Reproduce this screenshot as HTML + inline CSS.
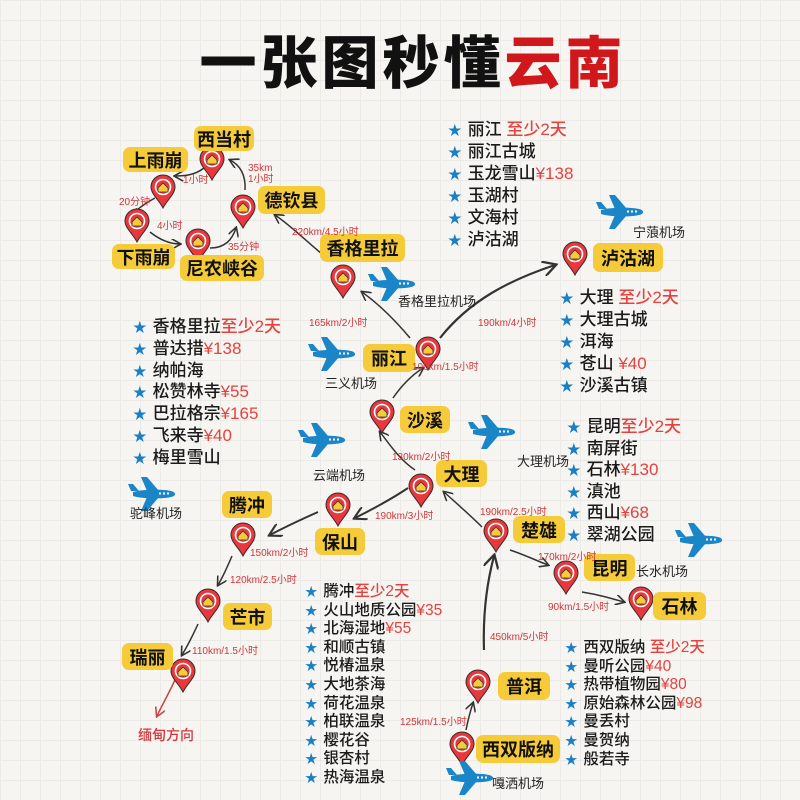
<!DOCTYPE html>
<html><head><meta charset="utf-8">
<style>
*{margin:0;padding:0;box-sizing:border-box}
body{width:800px;height:800px;overflow:hidden;position:relative;font-family:"Liberation Sans","Noto Sans CJK SC",sans-serif;
background-color:#f6f5f1;background-image:linear-gradient(#ebeae6 1px,transparent 1px),linear-gradient(90deg,#ebeae6 1px,transparent 1px);background-size:20px 20px}
.t{position:absolute;left:0;top:28px;width:826px;text-align:center;font-size:57px;font-weight:900;letter-spacing:4px;color:#111;font-family:"Noto Sans CJK SC",sans-serif;line-height:62px}
.t span{color:#d0181c}
.lb{position:absolute;background:#f6cb3a;border-radius:7px;font-weight:700;color:#111;font-size:18px;text-align:center;font-family:"Noto Sans CJK SC",sans-serif;display:flex;align-items:center;justify-content:center}
.ls{position:absolute;font-family:"Liberation Sans","Noto Sans CJK SC",sans-serif;font-weight:500;color:#1a1a1a}
.ls div{white-space:nowrap}
.ls b{color:#1a7fc4;font-size:0.8em;margin-right:6px;font-weight:400}
.ls i{font-style:normal;color:#e5423f}
.e{position:absolute;color:#d2353a;font-size:10px;white-space:nowrap;font-family:"Liberation Sans","Noto Sans CJK SC",sans-serif}
.ap{position:absolute;color:#222;font-size:13px;white-space:nowrap;font-family:"Noto Sans CJK SC",sans-serif}
svg{position:absolute;left:0;top:0}
</style></head><body>
<div class="t">一张图秒懂<span>云南</span></div>

<svg width="800" height="800" viewBox="0 0 800 800">
<defs>
<symbol id="pin" viewBox="-14 -14 28 36" overflow="visible">
<path d="M0,20 C-4,12 -12,6 -12,-1 A12,12 0 1 1 12,-1 C12,6 4,12 0,20Z" fill="#e8383d" stroke="#3a2a2a" stroke-width="1"/>
<circle cx="0" cy="-1" r="7.5" fill="#e8383d" stroke="#fff" stroke-width="1.6"/>
<path d="M-5,0 L0,-5 L5,0 L5,4 L-5,4Z" fill="#f6cb3a" stroke="#333" stroke-width="0.8"/>
</symbol>
<symbol id="pl" viewBox="-25 -18 50 36" overflow="visible">
<path d="M-20,-2 C-10,-5 10,-5 18,-3 C23,-2 24,2 18,3 C10,5 -10,5 -20,2Z" fill="#1a86c8"/>
<path d="M-6,-3 L-12,-17 L-6,-17 L6,-3Z" fill="#1a86c8"/>
<path d="M-6,3 L-12,17 L-6,17 L6,3Z" fill="#1a86c8"/>
<path d="M-22,-3 L-25,-10 L-20,-10 L-14,-3Z" fill="#1a86c8"/>
<rect x="6" y="-1.5" width="2" height="2" fill="#fff"/><rect x="10" y="-1.5" width="2" height="2" fill="#fff"/><rect x="14" y="-1.5" width="2" height="2" fill="#fff"/>
</symbol>
<marker id="ah" viewBox="0 0 10 10" refX="8" refY="5" markerWidth="7" markerHeight="7" orient="auto"><path d="M0,0 L9,5 L0,10" fill="none" stroke="#333" stroke-width="1.5"/></marker>
<marker id="ar" viewBox="0 0 10 10" refX="8" refY="5" markerWidth="7" markerHeight="7" orient="auto"><path d="M0,0 L9,5 L0,10" fill="none" stroke="#c44" stroke-width="1.5"/></marker>
</defs>
<g fill="none" stroke="#333" stroke-width="1.5" marker-end="url(#ah)">
<path d="M204,168 C195,175 185,176 175,176"/>
<path d="M155,198 C142,205 135,212 136,210"/>
<path d="M150,232 C160,240 170,244 180,244"/>
<path d="M210,248 C225,248 232,240 236,228"/>
<path d="M245,190 C246,175 240,165 230,160"/>
<path d="M322,254 C305,240 290,225 275,215"/>
<path d="M410,338 C395,320 380,305 362,292"/>
<path d="M440,338 C470,300 510,280 555,265" stroke-width="2.2"/>
<path d="M393,398 C402,385 412,375 423,368"/>
<path d="M415,470 C400,460 390,445 380,432"/>
<path d="M408,488 C390,500 375,508 355,518" stroke-width="2"/>
<path d="M318,512 C300,520 285,527 270,535" stroke-width="2"/>
<path d="M482,527 C470,515 455,502 444,492"/>
<path d="M232,556 C228,565 224,575 218,585"/>
<path d="M198,624 C193,635 188,645 182,655"/>
<path d="M510,550 C525,555 535,560 548,565"/>
<path d="M582,592 C600,595 610,598 624,602"/>
<path d="M484,650 C483,620 485,590 494,556" stroke-width="2.2"/>
<path d="M466,730 C468,720 470,712 473,703"/>
</g>
<path d="M175,680 C168,695 162,705 157,716" fill="none" stroke="#c44" stroke-width="1.5" marker-end="url(#ar)"/>

<use href="#pin" x="198" y="146" width="28" height="36"/>
<use href="#pin" x="149" y="174" width="28" height="36"/>
<use href="#pin" x="123" y="208" width="28" height="36"/>
<use href="#pin" x="184" y="228" width="28" height="36"/>
<use href="#pin" x="229" y="194" width="28" height="36"/>
<use href="#pin" x="329" y="264" width="28" height="36"/>
<use href="#pin" x="414" y="336" width="28" height="36"/>
<use href="#pin" x="368" y="399" width="28" height="36"/>
<use href="#pin" x="407" y="473" width="28" height="36"/>
<use href="#pin" x="324" y="492" width="28" height="36"/>
<use href="#pin" x="229" y="522" width="28" height="36"/>
<use href="#pin" x="194" y="588" width="28" height="36"/>
<use href="#pin" x="169" y="658" width="28" height="36"/>
<use href="#pin" x="482" y="518" width="28" height="36"/>
<use href="#pin" x="552" y="560" width="28" height="36"/>
<use href="#pin" x="627" y="586" width="28" height="36"/>
<use href="#pin" x="561" y="241" width="28" height="36"/>
<use href="#pin" x="464" y="669" width="28" height="36"/>
<use href="#pin" x="448" y="731" width="28" height="36"/>

<use href="#pl" x="368" y="266" width="50" height="36"/>
<use href="#pl" x="308" y="336" width="50" height="36"/>
<use href="#pl" x="468" y="414" width="50" height="36"/>
<use href="#pl" x="298" y="422" width="50" height="36"/>
<use href="#pl" x="128" y="476" width="50" height="36"/>
<use href="#pl" x="596" y="194" width="50" height="36"/>
<use href="#pl" x="675" y="522" width="50" height="36"/>
<use href="#pl" x="446" y="760" width="50" height="36"/>
</svg>

<div class="lb" style="left:194px;top:126px;width:60px;height:25px">西当村</div>
<div class="lb" style="left:123px;top:147px;width:65px;height:25px">上雨崩</div>
<div class="lb" style="left:112px;top:244px;width:63px;height:25px">下雨崩</div>
<div class="lb" style="left:180px;top:255px;width:84px;height:26px">尼农峡谷</div>
<div class="lb" style="left:258px;top:186px;width:67px;height:28px">德钦县</div>
<div class="lb" style="left:320px;top:234px;width:85px;height:28px">香格里拉</div>
<div class="lb" style="left:363px;top:344px;width:52px;height:28px">丽江</div>
<div class="lb" style="left:400px;top:406px;width:50px;height:27px">沙溪</div>
<div class="lb" style="left:436px;top:460px;width:51px;height:27px">大理</div>
<div class="lb" style="left:315px;top:528px;width:50px;height:27px">保山</div>
<div class="lb" style="left:222px;top:491px;width:50px;height:27px">腾冲</div>
<div class="lb" style="left:223px;top:603px;width:49px;height:27px">芒市</div>
<div class="lb" style="left:122px;top:643px;width:51px;height:27px">瑞丽</div>
<div class="lb" style="left:513px;top:516px;width:52px;height:27px">楚雄</div>
<div class="lb" style="left:584px;top:554px;width:51px;height:27px">昆明</div>
<div class="lb" style="left:653px;top:592px;width:53px;height:28px">石林</div>
<div class="lb" style="left:593px;top:243px;width:70px;height:29px">泸沽湖</div>
<div class="lb" style="left:498px;top:672px;width:52px;height:28px">普洱</div>
<div class="lb" style="left:476px;top:735px;width:84px;height:28px">西双版纳</div>

<div class="ap" style="left:398px;top:291px">香格里拉机场</div>
<div class="ap" style="left:325px;top:373px">三义机场</div>
<div class="ap" style="left:517px;top:451px">大理机场</div>
<div class="ap" style="left:313px;top:465px">云端机场</div>
<div class="ap" style="left:130px;top:503px">驼峰机场</div>
<div class="ap" style="left:633px;top:222px">宁蒗机场</div>
<div class="ap" style="left:636px;top:561px">长水机场</div>
<div class="ap" style="left:492px;top:773px">嘎洒机场</div>

<div class="e" style="left:248px;top:163px;line-height:11px">35km<br>1小时</div>
<div class="e" style="left:183px;top:171px">1小时</div>
<div class="e" style="left:119px;top:193px">20分钟</div>
<div class="e" style="left:157px;top:217px">4小时</div>
<div class="e" style="left:228px;top:238px">35分钟</div>
<div class="e" style="left:292px;top:223px">220km/4.5小时</div>
<div class="e" style="left:309px;top:314px">165km/2小时</div>
<div class="e" style="left:478px;top:314px">190km/4小时</div>
<div class="e" style="left:412px;top:358px">100km/1.5小时</div>
<div class="e" style="left:392px;top:448px">130km/2小时</div>
<div class="e" style="left:375px;top:507px">190km/3小时</div>
<div class="e" style="left:480px;top:503px">190km/2.5小时</div>
<div class="e" style="left:250px;top:544px">150km/2小时</div>
<div class="e" style="left:230px;top:571px">120km/2.5小时</div>
<div class="e" style="left:192px;top:642px">110km/1.5小时</div>
<div class="e" style="left:538px;top:548px">170km/2小时</div>
<div class="e" style="left:548px;top:598px">90km/1.5小时</div>
<div class="e" style="left:490px;top:628px">450km/5小时</div>
<div class="e" style="left:400px;top:713px">125km/1.5小时</div>
<div class="e" style="left:138px;top:725px;font-size:14px;font-weight:500">缅甸方向</div>

<div class="ls" style="left:448px;top:119px;font-size:17px;line-height:21px">
<div><b>★</b>丽江 <i>至少2天</i></div><div><b>★</b>丽江古城</div><div><b>★</b>玉龙雪山<i>¥138</i></div><div><b>★</b>玉湖村</div><div><b>★</b>文海村</div><div><b>★</b>泸沽湖</div></div>
<div class="ls" style="left:560px;top:287px;font-size:17px;line-height:21px">
<div><b>★</b>大理 <i>至少2天</i></div><div><b>★</b>大理古城</div><div><b>★</b>洱海</div><div><b>★</b>苍山 <i>¥40</i></div><div><b>★</b>沙溪古镇</div></div>
<div class="ls" style="left:133px;top:317px;font-size:17px;line-height:20.8px">
<div><b>★</b>香格里拉<i>至少2天</i></div><div><b>★</b>普达措<i>¥138</i></div><div><b>★</b>纳帕海</div><div><b>★</b>松赞林寺<i>¥55</i></div><div><b>★</b>巴拉格宗<i>¥165</i></div><div><b>★</b>飞来寺<i>¥40</i></div><div><b>★</b>梅里雪山</div></div>
<div class="ls" style="left:567px;top:417px;font-size:17px;line-height:20.5px">
<div><b>★</b>昆明<i>至少2天</i></div><div><b>★</b>南屏街</div><div><b>★</b>石林<i>¥130</i></div><div><b>★</b>滇池</div><div><b>★</b>西山<i>¥68</i></div><div><b>★</b>翠湖公园</div></div>
<div class="ls" style="left:305px;top:583px;font-size:15.5px;line-height:18.6px">
<div><b>★</b>腾冲<i>至少2天</i></div><div><b>★</b>火山地质公园<i>¥35</i></div><div><b>★</b>北海湿地<i>¥55</i></div><div><b>★</b>和顺古镇</div><div><b>★</b>悦椿温泉</div><div><b>★</b>大地茶海</div><div><b>★</b>荷花温泉</div><div><b>★</b>柏联温泉</div><div><b>★</b>樱花谷</div><div><b>★</b>银杏村</div><div><b>★</b>热海温泉</div></div>
<div class="ls" style="left:565px;top:639px;font-size:15.5px;line-height:18.6px">
<div><b>★</b>西双版纳 <i>至少2天</i></div><div><b>★</b>曼听公园<i>¥40</i></div><div><b>★</b>热带植物园<i>¥80</i></div><div><b>★</b>原始森林公园<i>¥98</i></div><div><b>★</b>曼丢村</div><div><b>★</b>曼贺纳</div><div><b>★</b>般若寺</div></div>
</body></html>
